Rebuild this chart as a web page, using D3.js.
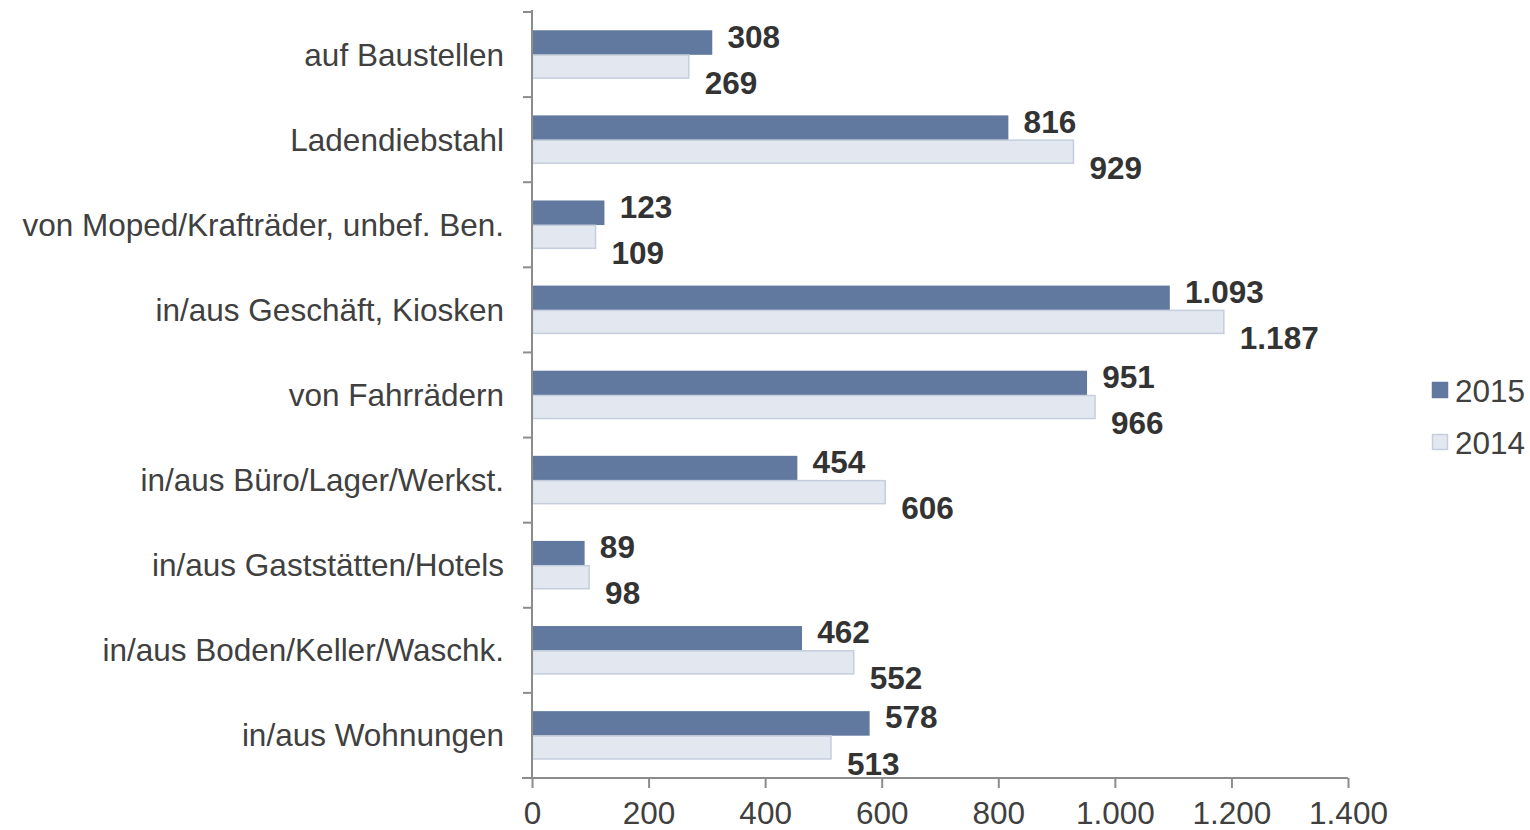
<!DOCTYPE html>
<html>
<head>
<meta charset="utf-8">
<script src="https://cdn.jsdelivr.net/npm/d3@7"></script>
<style>
  body { margin: 0; background: #fff; }
  svg text { font-family: "Liberation Sans", Arial, sans-serif; }
</style>
</head>
<body>
<svg id="chart" width="1530" height="830"></svg>
<script>
const categories = [
  "auf Baustellen",
  "Ladendiebstahl",
  "von Moped/Krafträder, unbef. Ben.",
  "in/aus Geschäft, Kiosken",
  "von Fahrrädern",
  "in/aus Büro/Lager/Werkst.",
  "in/aus Gaststätten/Hotels",
  "in/aus Boden/Keller/Waschk.",
  "in/aus Wohnungen"
];
const values2015 = [308, 816, 123, 1093, 951, 454, 89, 462, 578];
const values2014 = [269, 929, 109, 1187, 966, 606, 98, 552, 513];
const xTicks = [0, 200, 400, 600, 800, 1000, 1200, 1400];
const seriesNames = ["2015", "2014"];

const colors = { "2015": "#62799f", "2014": "#e3e7f0" };
const strokes = { "2015": "#62799f", "2014": "#c5cedd" };

const fmt = d3.formatLocale({ decimal: ",", thousands: ".", grouping: [3], currency: ["", "€"] }).format(",d");

const margin = { top: 12, left: 532, right: 182, bottom: 52 };
const width = 1530 - margin.left - margin.right,
  height = 830 - margin.top - margin.bottom;
const fs = 31.5;

const svg = d3.select("#chart");
const g = svg.append("g").attr("transform", "translate(" + margin.left + "," + margin.top + ")");

const x = d3.scaleLinear().domain([0, 1400]).range([0, width]);
const y = d3.scaleBand().domain(categories).range([0, height]).paddingInner(0.435).paddingOuter(0.2175);
const ySub = d3.scaleBand().domain(seriesNames).range([0, y.bandwidth()]);

const rows = categories.map((c, i) => ({ cat: c, vals: [
  { key: "2015", v: values2015[i] },
  { key: "2014", v: values2014[i] }
] }));

// bars
const grp = g.selectAll(".row").data(rows).enter().append("g")
  .attr("transform", d => "translate(0," + y(d.cat) + ")");

grp.selectAll("rect").data(d => d.vals).enter().append("rect")
  .attr("x", 0.5)
  .attr("y", d => ySub(d.key) + 0.5)
  .attr("width", d => x(d.v) - 0.5)
  .attr("height", ySub.bandwidth() - 1)
  .attr("fill", d => colors[d.key])
  .attr("stroke", d => strokes[d.key])
  .attr("stroke-width", 1.5);

// value labels
grp.selectAll("text").data(d => d.vals).enter().append("text")
  .attr("x", d => x(d.v) + 16)
  .attr("y", d => d.key === "2015" ? ySub(d.key) + 6 : ySub(d.key) + ySub.bandwidth() + 4)
  .attr("dy", "0.35em")
  .attr("font-size", fs)
  .attr("font-weight", "bold")
  .attr("fill", "#333")
  .text(d => fmt(d.v));

// y axis line + ticks between categories
const axisColor = "#8c8c8c";
g.append("line").attr("x1", 0).attr("x2", 0).attr("y1", -2).attr("y2", height)
  .attr("stroke", axisColor).attr("stroke-width", 2);
d3.range(categories.length + 1).forEach(i => {
  const yy = i * height / categories.length;
  g.append("line").attr("x1", -9).attr("x2", 0).attr("y1", yy).attr("y2", yy)
    .attr("stroke", axisColor).attr("stroke-width", 2);
});

// category labels
g.selectAll(".cat").data(categories).enter().append("text")
  .attr("x", -28)
  .attr("y", d => y(d) + y.bandwidth() / 2)
  .attr("dy", "0.35em")
  .attr("text-anchor", "end")
  .attr("font-size", fs)
  .attr("fill", "#404040")
  .text(d => d);

// x axis
const xAxis = g.append("g").attr("transform", "translate(0," + height + ")")
  .call(d3.axisBottom(x).tickValues(xTicks).tickFormat(d => fmt(d)).tickSize(10).tickSizeOuter(0));
xAxis.select(".domain").attr("stroke", axisColor).attr("stroke-width", 2).attr("d", "M-10,0H" + width);
xAxis.selectAll(".tick line").attr("stroke", axisColor).attr("stroke-width", 2);
xAxis.selectAll(".tick text").attr("font-size", fs).attr("fill", "#404040").attr("y", 35).attr("dy", "0.35em")
  .attr("font-family", "Liberation Sans, Arial, sans-serif");

// legend
const legend = svg.append("g").attr("transform", "translate(1432,382)");
seriesNames.forEach((s, i) => {
  const lg = legend.append("g").attr("transform", "translate(0," + i * 52 + ")");
  lg.append("rect").attr("x", 0.5).attr("y", 0.5).attr("width", 15).attr("height", 15)
    .attr("fill", colors[s]).attr("stroke", strokes[s]).attr("stroke-width", 1.5);
  lg.append("text").attr("x", 23).attr("y", 9).attr("dy", "0.35em")
    .attr("font-size", fs).attr("fill", "#404040").text(s);
});
</script>
</body>
</html>
